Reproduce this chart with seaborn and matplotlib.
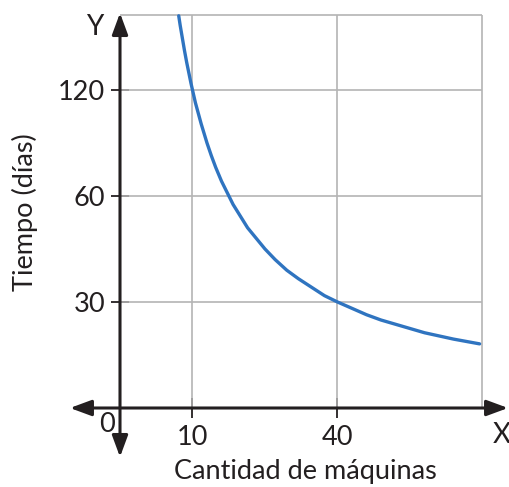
import numpy as np
import seaborn as sns
import matplotlib.pyplot as plt

# curve, in grid units (one grid cell = 1)
curva_u = [0.405, 0.415, 0.43, 0.445, 0.46, 0.475, 0.49, 0.5, 0.52, 0.54, 0.56,
           0.58, 0.6, 0.63, 0.66, 0.7, 0.74, 0.78, 0.83, 0.88, 0.94, 1.0,
           1.07, 1.15, 1.23, 1.32, 1.41, 1.5, 1.6, 1.7, 1.8, 1.9, 2.0, 2.1,
           2.2, 2.3, 2.4, 2.48]
curva_v = [3.70, 3.61, 3.49, 3.37, 3.26, 3.16, 3.06, 3.0, 2.88, 2.78, 2.68,
           2.59, 2.5, 2.38, 2.27, 2.14, 2.03, 1.92, 1.81, 1.70, 1.60, 1.5,
           1.40, 1.30, 1.22, 1.14, 1.06, 1.0, 0.94, 0.88, 0.83, 0.79, 0.75, 0.71,
           0.68, 0.65, 0.625, 0.605]

xticks = [0.5, 1.5]
xlabels = ['10', '40']
yticks = [1, 2, 3]
ylabels = ['30', '60', '120']
x_grid = [0.5, 1.5, 2.5]
y_grid = [1, 2, 3, 3.708]

sns.set_style('white')
plt.rcParams['font.family'] = ['Lato', 'DejaVu Sans']
ink = '#231f20'
fs = 19.5

fig = plt.figure(figsize=(5.10, 4.87), dpi=100)
ax = fig.add_axes([0, 0, 1, 1])
ax.set_xlim(-120 / 145, 390 / 145)
ax.set_ylim(-79 / 106, 408 / 106)

# grid
ax.vlines(x_grid, 0, y_grid[-1], color='#b4b4b4', lw=1.2, zorder=1)
ax.hlines(y_grid, 0, x_grid[-1], color='#b4b4b4', lw=1.2, zorder=1)

sns.lineplot(x=curva_u, y=curva_v, sort=False, color='#2f74c0', lw=2.4, ax=ax, zorder=3)

# axes with arrows
arrow = dict(arrowstyle='<|-|>,head_length=0.65,head_width=0.24', color=ink,
             lw=2.2, shrinkA=0, shrinkB=0, mutation_scale=20)
ax.annotate('', xy=(0, 3.726), xytext=(0, -0.462), arrowprops=arrow, zorder=4)
ax.annotate('', xy=(2.676, 0), xytext=(-0.345, 0), arrowprops=arrow, zorder=4)

for s in ax.spines.values():
    s.set_visible(False)
ax.spines['bottom'].set_position(('data', 0))
ax.spines['left'].set_position(('data', 0))

ax.set_xticks(xticks, xlabels)
ax.set_yticks(yticks, ylabels)
ax.tick_params(axis='x', direction='inout', length=14, width=1.3, color=ink,
               pad=5, labelsize=fs, labelcolor=ink, bottom=True)
ax.tick_params(axis='y', direction='inout', length=13, width=1.3, color=ink,
               pad=4, labelsize=fs, labelcolor=ink, left=True)

ax.text(-0.09, -0.16, '0', fontsize=fs, color=ink, ha='center', va='center')
ax.text(-0.172, 3.594, 'Y', fontsize=20, color=ink, ha='center', va='center')
ax.text(2.634, -0.255, 'X', fontsize=20, color=ink, ha='center', va='center')

ax.set_xlabel('Cantidad de máquinas', fontsize=fs, color=ink)
ax.set_ylabel('Tiempo (días)', fontsize=fs, color=ink)
ax.xaxis.label.set_va('center')
ax.yaxis.label.set_va('center')
ax.xaxis.set_label_coords(305 / 510, 1 - 472 / 487)
ax.yaxis.set_label_coords(25 / 510, 1 - 212 / 487)

fig.savefig('out.png', dpi=100)
